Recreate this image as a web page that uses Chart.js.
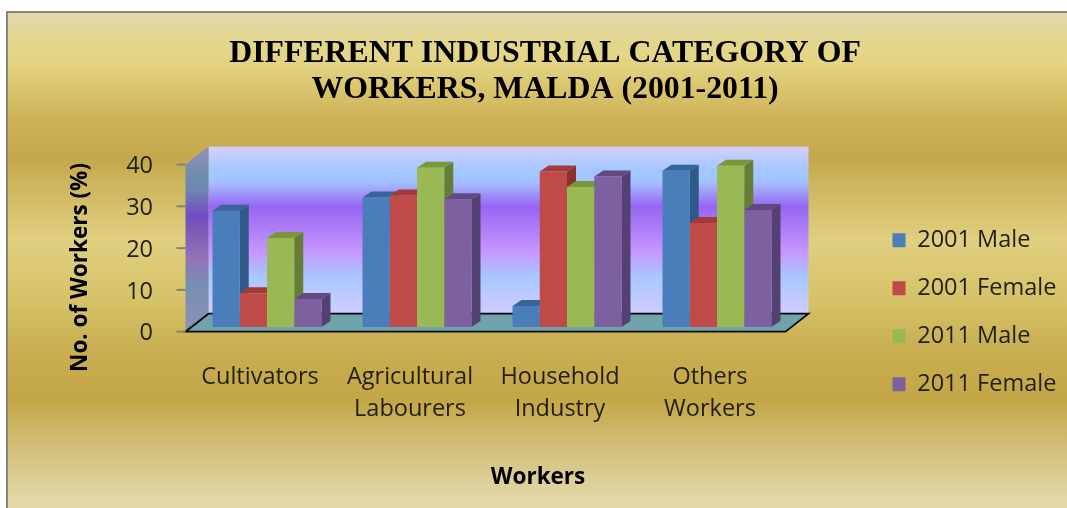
<!DOCTYPE html>
<html>
<head>
<meta charset="utf-8">
<style>html,body{margin:0;padding:0;background:#fff;overflow:hidden}canvas{display:block;filter:blur(0.5px)}</style>
<script src="https://cdn.jsdelivr.net/npm/chart.js@4"></script>
</head>
<body>
<canvas id="c" width="1067" height="508"></canvas>
<script>
const categories = [["Cultivators"], ["Agricultural", "Labourers"], ["Household", "Industry"], ["Others", "Workers"]];
const male2001 = [27.8, 31, 5, 37.4];
const female2001 = [8.1, 31.5, 37.2, 24.9];
const male2011 = [21.3, 38.1, 33.5, 38.6];
const female2011 = [6.7, 30.6, 36, 28];
const seriesNames = ["2001 Male", "2001 Female", "2011 Male", "2011 Female"];
const titleLines = ["DIFFERENT INDUSTRIAL CATEGORY OF", "WORKERS, MALDA (2001-2011)"];

const faces = [
  {front: "#4a7ebb", top: "#37659a", side: "#2f5a88"},
  {front: "#be4b48", top: "#a33a37", side: "#8c2f2d"},
  {front: "#98b954", top: "#7b9838", side: "#667d34"},
  {front: "#7d60a0", top: "#614a82", side: "#544072"}
];
const SANS = "'Open Sans', Lato, sans-serif";
const AXIS_DX = 6.5, AXIS_DY = 4.7;   // bar plane relative to the front of the floor
const WALL_DX = 23, WALL_DY = 18;     // depth of the floor
const BAR_DX = 9, BAR_DY = 6;         // depth of a bar

function shiftDrawTitle(scale, dx, dy) {
  if (scale._shifted) return;
  scale._shifted = true;
  const orig = scale.drawTitle;
  scale.drawTitle = function () {
    const ctx = this.ctx;
    ctx.save(); ctx.translate(dx, dy); orig.call(this); ctx.restore();
  };
}

const scene = {
  id: "scene",
  beforeLayout(chart) {
    const lg = chart.legend;
    if (lg && !lg._patched) {
      lg._patched = true;
      const fit = lg.fit;
      lg.fit = function () { fit.call(this); this.width = 275; };
    }
  },
  afterLayout(chart) {
    const lg = chart.legend;
    lg.left = 868; lg.right = 1067; lg.top = 204; lg.bottom = 480;
    const tb = chart.titleBlock;
    tb.left = 23; tb.right = 1067;
  },
  beforeDraw(chart) {
    const ctx = chart.ctx, W = chart.width, H = chart.height;
    ctx.save();
    ctx.fillStyle = "#fff";
    ctx.fillRect(0, 0, W, H);
    const g = ctx.createLinearGradient(0, 0, 0, H);
    const gold = [[14, "#e2d8ae"], [40, "#e3d68f"], [60, "#e4d585"], [90, "#d9c46c"], [120, "#cdb258"],
                  [160, "#c5a84c"], [180, "#cdb35c"], [240, "#e0cf80"], [300, "#d6c268"], [350, "#c9ae52"],
                  [400, "#c3a646"], [440, "#d0bb72"], [500, "#e2d8a8"]];
    gold.forEach(s => g.addColorStop(s[0] / H, s[1]));
    ctx.fillStyle = g;
    ctx.fillRect(7, 12, W - 7, H - 12);
    ctx.fillStyle = "#8a8474";
    ctx.fillRect(6, 11, W - 6, 2);
    ctx.fillRect(6, 11, 2, H - 11);

    const a = chart.chartArea, y = chart.scales.y;
    const fl = a.left - AXIS_DX, fr = a.right - AXIS_DX;
    const fb = y.getPixelForValue(0) + AXIS_DY, ft = y.getPixelForValue(40) + AXIS_DY;
    const bl = fl + WALL_DX, br = fr + WALL_DX, bb = fb - WALL_DY, bt = ft - WALL_DY;

    const w = ctx.createLinearGradient(0, bt, 0, bb);
    w.addColorStop(0, "#d6ceff");
    w.addColorStop(0.14, "#a2c8ff");
    w.addColorStop(0.21, "#a4c2ff");
    w.addColorStop(0.36, "#9666f3");
    w.addColorStop(0.46, "#a878f6");
    w.addColorStop(0.62, "#c694ff");
    w.addColorStop(0.78, "#a8c8ff");
    w.addColorStop(1, "#d2ccff");
    ctx.fillStyle = w;
    ctx.fillRect(bl, bt, br - bl, bb - bt);

    const s = ctx.createLinearGradient(0, ft - 9, 0, fb - 9);
    s.addColorStop(0, "#8a8fb8");
    s.addColorStop(0.14, "#6c8cb0");
    s.addColorStop(0.21, "#6f84b2");
    s.addColorStop(0.36, "#6f4cc0");
    s.addColorStop(0.46, "#7f5cb8");
    s.addColorStop(0.62, "#9274b8");
    s.addColorStop(0.78, "#7690b4");
    s.addColorStop(1, "#8a90b4");
    ctx.fillStyle = s;
    ctx.beginPath();
    ctx.moveTo(fl, fb); ctx.lineTo(bl, bb); ctx.lineTo(bl, bt); ctx.lineTo(fl, ft); ctx.closePath();
    ctx.fill();

    ctx.fillStyle = "#70a3ac";
    ctx.beginPath();
    ctx.moveTo(fl, fb); ctx.lineTo(fr, fb); ctx.lineTo(br, bb); ctx.lineTo(bl, bb); ctx.closePath();
    ctx.fill();
    ctx.strokeStyle = "#0a0a0a"; ctx.lineWidth = 1.8;
    ctx.stroke();

    ctx.strokeStyle = "#8a7f60"; ctx.lineWidth = 2;
    y.ticks.forEach(t => {
      const py = y.getPixelForValue(t.value) + AXIS_DY;
      ctx.beginPath(); ctx.moveTo(fl - 9, py); ctx.lineTo(fl, py); ctx.stroke();
    });
    ctx.restore();
  },
  beforeDatasetsDraw(chart) {
    const ctx = chart.ctx;
    const n = chart.data.labels.length;
    ctx.save();
    for (let c = 0; c < n; c++) {
      chart.data.datasets.forEach((ds, d) => {
        const b = chart.getDatasetMeta(d).data[c];
        const l = b.x - b.width / 2, r = b.x + b.width / 2, t = b.y, base = b.base;
        ctx.fillStyle = faces[d].side;
        ctx.beginPath();
        ctx.moveTo(r, base); ctx.lineTo(r + BAR_DX, base - BAR_DY);
        ctx.lineTo(r + BAR_DX, t - BAR_DY); ctx.lineTo(r, t); ctx.closePath(); ctx.fill();
        ctx.fillStyle = faces[d].top;
        ctx.beginPath();
        ctx.moveTo(l, t); ctx.lineTo(r, t); ctx.lineTo(r + BAR_DX, t - BAR_DY);
        ctx.lineTo(l + BAR_DX, t - BAR_DY); ctx.closePath(); ctx.fill();
      });
    }
    ctx.restore();
  }
};

const seriesValues = [male2001, female2001, male2011, female2011];
new Chart(document.getElementById("c"), {
  type: "bar",
  data: {
    labels: categories,
    datasets: seriesNames.map((name, i) => ({
      label: name,
      data: seriesValues[i],
      backgroundColor: faces[i].front,
      borderWidth: 0
    }))
  },
  options: {
    responsive: false,
    animation: false,
    devicePixelRatio: 1,
    events: [],
    layout: {padding: 0},
    barPercentage: 1,
    categoryPercentage: 0.7267,
    plugins: {
      tooltip: {enabled: false},
      title: {
        display: true,
        text: titleLines,
        color: "#000",
        font: {family: "'Liberation Serif', serif", size: 31.8, weight: "bold", lineHeight: 1.13},
        padding: {top: 36, bottom: 52}
      },
      legend: {
        display: true,
        position: "right",
        align: "start",
        labels: {
          boxWidth: 13, boxHeight: 14, padding: 24.5, color: "#1f1f14",
          font: {family: SANS, size: 23.5}
        }
      }
    },
    scales: {
      x: {
        grid: {display: false},
        border: {display: false},
        afterFit(s) { s.height = 181; },
        afterUpdate(s) { shiftDrawTitle(s, 46, 0); },
        ticks: {
          color: "#1f1f14", padding: 26, labelOffset: -7, maxRotation: 0, autoSkip: false,
          font: {family: SANS, size: 23.5, lineHeight: 1.362}
        },
        title: {
          display: true, text: "Workers", color: "#000",
          font: {family: SANS, size: 22.5, weight: "bold"},
          padding: {top: 0, bottom: 17}
        }
      },
      y: {
        min: 0, max: 40,
        grid: {display: false},
        border: {display: false},
        afterFit(s) { s.width = 192; },
        afterUpdate(s) { shiftDrawTitle(s, 0, 24); },
        ticks: {
          stepSize: 10, color: "#1f1f14", padding: 31, labelOffset: 6.7,
          font: {family: SANS, size: 23.5}
        },
        title: {
          display: true, text: "No. of Workers (%)", color: "#000",
          font: {family: SANS, size: 22.5, weight: "bold"},
          padding: {top: 67, bottom: 0}
        }
      }
    }
  },
  plugins: [scene]
});
</script>
</body>
</html>
